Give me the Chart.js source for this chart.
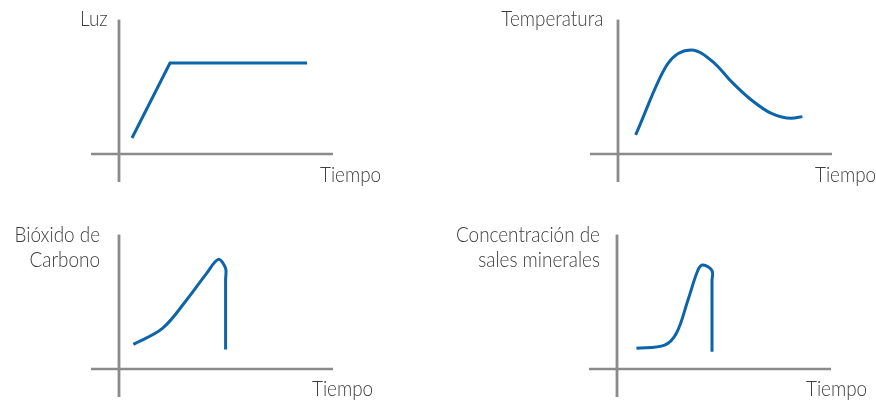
<!DOCTYPE html>
<html lang="es">
<head>
<meta charset="utf-8">
<title>Fotosíntesis - factores</title>
<script src="https://cdn.jsdelivr.net/npm/chart.js@4.4.1/dist/chart.umd.min.js"></script>
<style>
    html, body { margin: 0; padding: 0; background: #fff; }
    #stage { position: relative; width: 876px; height: 403px; overflow: hidden; }
    canvas { position: absolute; }
    .lbl {
        position: absolute;
        font-family: Lato, "Open Sans", sans-serif;
        font-weight: 300;
        font-size: 21px;
        line-height: 25px;
        color: #3d3d3d;
        white-space: nowrap;
    }
    .right { text-align: right; transform: scaleX(0.9); transform-origin: right top; }
    .left { text-align: left; transform: scaleX(0.9); transform-origin: left top; }
</style>
</head>
<body>
<div id="stage">
    <canvas id="luzChart" width="260" height="182" style="left:79px;top:14px"></canvas>
    <canvas id="tempChart" width="260" height="182" style="left:578px;top:14px"></canvas>
    <canvas id="co2Chart" width="260" height="182" style="left:79px;top:229px"></canvas>
    <canvas id="salesChart" width="260" height="182" style="left:577px;top:229px"></canvas>

    <div class="lbl right" style="right:768px;top:5px">Luz</div>
    <div class="lbl left" style="left:320px;top:161px">Tiempo</div>
    <div class="lbl right" style="right:273px;top:5px">Temperatura</div>
    <div class="lbl left" style="left:815px;top:161px">Tiempo</div>
    <div class="lbl right" style="right:776px;top:221px">Bióxido de<br>Carbono</div>
    <div class="lbl left" style="left:312px;top:375px">Tiempo</div>
    <div class="lbl right" style="right:276px;top:221px">Concentración de<br>sales minerales</div>
    <div class="lbl left" style="left:806px;top:375px">Tiempo</div>
</div>

<script>
// axis lines (same for all four panels)
const ejeX = [-1.4, 10.7];
const ejeY = [-2.0, 9.6];

// Luz
const luzTiempo = [0.65, 2.55, 9.4];
const luzValor = [1.14, 6.5, 6.5];

// Temperatura
const tempTiempo = [0.88, 2.5, 3.67, 4.83, 5.67, 6.67, 7.67, 8.67, 9.22];
const tempValor = [1.36, 6.48, 7.43, 6.48, 5.17, 3.86, 2.9, 2.55, 2.67];

// Bióxido de Carbono
const co2Tiempo = [0.72, 2.17, 3.38, 4.38, 4.97, 5.33, 5.33, 5.33];
const co2Valor = [1.76, 2.9, 4.93, 6.83, 7.83, 7.19, 6.4, 1.4];

// Concentración de sales minerales
const salesTiempo = [0.97, 2.38, 2.97, 3.55, 4.05, 4.3, 4.75, 4.75, 4.75];
const salesValor = [1.48, 1.71, 2.55, 4.93, 7.07, 7.43, 7.02, 6.3, 1.24];

const azul = "#0d64a8";
const gris = "#8b8b8b";

function puntos(xs, ys) {
    return xs.map((x, i) => ({ x: x, y: ys[i] }));
}

function makeChart(id, xs, ys, curva) {
    const serie = {
        data: puntos(xs, ys),
        borderColor: azul,
        borderWidth: 3,
        pointRadius: 0,
        fill: false,
        tension: curva.tension || 0
    };
    if (curva.monotone) serie.cubicInterpolationMode = "monotone";

    return new Chart(document.getElementById(id), {
        type: "line",
        data: {
            datasets: [
                {
                    data: [{ x: ejeX[0], y: 0 }, { x: ejeX[1], y: 0 }],
                    borderColor: gris,
                    borderWidth: 2.6,
                    pointRadius: 0,
                    tension: 0
                },
                {
                    data: [{ x: 0, y: ejeY[0] }, { x: 0, y: ejeY[1] }],
                    borderColor: gris,
                    borderWidth: 2.8,
                    pointRadius: 0,
                    tension: 0
                },
                serie
            ]
        },
        options: {
            responsive: false,
            animation: false,
            events: [],
            layout: { padding: 0 },
            plugins: {
                legend: { display: false },
                tooltip: { enabled: false }
            },
            scales: {
                x: { type: "linear", min: -2, max: 11, display: false },
                y: { type: "linear", min: -3, max: 10, display: false }
            }
        }
    });
}

makeChart("luzChart", luzTiempo, luzValor, {});
makeChart("tempChart", tempTiempo, tempValor, { monotone: true });
makeChart("co2Chart", co2Tiempo, co2Valor, { tension: 0.35 });
makeChart("salesChart", salesTiempo, salesValor, { tension: 0.35 });
</script>
</body>
</html>
